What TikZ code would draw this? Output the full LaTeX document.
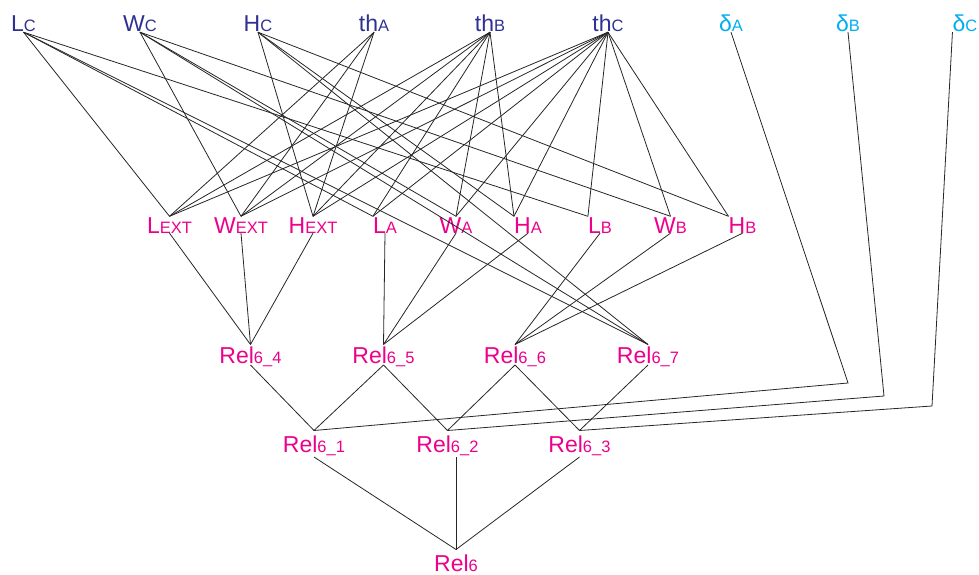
\documentclass[tikz,border=0pt]{standalone}
\usepackage{fontspec}
\setmainfont{Liberation Sans}
\definecolor{dimblue}{HTML}{2E3192}
\definecolor{gapcyan}{HTML}{00AEEF}
\definecolor{relpink}{HTML}{EC008C}
\newcommand{\subtxt}[1]{{\fontsize{16.5}{16.5}\selectfont #1}}

\begin{document}
\begin{tikzpicture}[x=1pt, y=-1pt,
    var/.style={inner sep=0pt, text height=16.5pt, text depth=0pt, anchor=base, font=\fontsize{23}{23}\selectfont},
    given/.style={var, text=dimblue},
    gap/.style={var, text=gapcyan},
    derived/.style={var, text=relpink},
    relhigh/.style={derived, outer ysep=2pt},
    rellow/.style={derived, outer ysep=5pt},
    link/.style={draw=black!85, line width=0.8pt}
]
    \useasboundingbox (0,0) rectangle (979,575);

    % Top row
    \node[given] (Lc) at (23.5,32) {L\subtxt{C}};
    \node[given] (Wc) at (140,32) {W\subtxt{C}};
    \node[given] (Hc) at (258,32) {H\subtxt{C}};
    \node[given] (thA) at (374,32) {th\subtxt{A}};
    \node[given] (thB) at (490,32) {th\subtxt{B}};
    \node[given] (thC) at (608,32) {th\subtxt{C}};
    \node[gap] (dA) at (731,32) {δ\subtxt{A}};
    \node[gap] (dB) at (848,32) {δ\subtxt{B}};
    \node[gap] (dC) at (965,32) {δ\subtxt{C}};

    % Middle row
    \node[derived] (Lext) at (169.5,233) {L\subtxt{EXT}};
    \node[derived] (Wext) at (241,233) {W\subtxt{EXT}};
    \node[derived] (Hext) at (313,233) {H\subtxt{EXT}};
    \node[derived] (LA) at (385,233) {L\subtxt{A}};
    \node[derived] (WA) at (456,233) {W\subtxt{A}};
    \node[derived] (HA) at (528,233) {H\subtxt{A}};
    \node[derived] (LB) at (600,233) {L\subtxt{B}};
    \node[derived] (WB) at (670.5,233) {W\subtxt{B}};
    \node[derived] (HB) at (742.5,233) {H\subtxt{B}};

    % Relations
    \node[relhigh] (Rel64) at (250.5,363) {Rel\subtxt{6\_4}};
    \node[relhigh] (Rel65) at (383.5,363) {Rel\subtxt{6\_5}};
    \node[relhigh] (Rel66) at (515,363) {Rel\subtxt{6\_6}};
    \node[relhigh] (Rel67) at (648,363) {Rel\subtxt{6\_7}};
    \node[rellow] (Rel61) at (314,452) {Rel\subtxt{6\_1}};
    \node[rellow] (Rel62) at (447.5,452) {Rel\subtxt{6\_2}};
    \node[rellow] (Rel63) at (579.5,452) {Rel\subtxt{6\_3}};
    \node[rellow] (Rel6) at (456,571) {Rel\subtxt{6}};

    % Bends of the clearance lines
    \coordinate (kA) at (848,383);
    \coordinate (kB) at (884,396);
    \coordinate (kC) at (932,406);

    % Top row to middle row
    \foreach \t in {Lext.north, LA.north west, LB.north west, Rel67.north}
        \draw[link] (Lc.south) -- (\t);
    \foreach \t in {Wext.north, WA.north, WB.north, Rel67.north}
        \draw[link] (Wc.south) -- (\t);
    \foreach \t in {Hext.north, HA.north west, HB.north west, Rel67.north}
        \draw[link] (Hc.south) -- (\t);
    \foreach \t in {Lext.north, Wext.north, Hext.north}
        \draw[link] (thA.south) -- (\t);
    \foreach \t in {Lext.north, Wext.north, Hext.north, LA.north west, WA.north, HA.north west}
        \draw[link] (thB.south) -- (\t);
    \foreach \t in {Lext.north, Wext.north, Hext.north, LA.north west, WA.north, HA.north west, LB.north west, WB.north, HB.north west}
        \draw[link] (thC.south) -- (\t);

    % Middle row to relations
    \foreach \s/\r in {Lext/Rel64, Wext/Rel64, Hext/Rel64, LA/Rel65, WA/Rel65, HA/Rel65, LB/Rel66, WB/Rel66, HB/Rel66}
        \draw[link] (\s.south) -- (\r.north);
    \foreach \s/\r in {Rel64/Rel61, Rel65/Rel61, Rel65/Rel62, Rel66/Rel62, Rel66/Rel63, Rel67/Rel63}
        \draw[link] (\s.south) -- (\r.north);

    % Clearances
    \draw[link] (dA.south) -- (kA) -- (Rel61.north);
    \draw[link] (dB.south) -- (kB) -- (Rel62.north);
    \draw[link] (dC.south west) -- (kC) -- (Rel63.north);

    % Final relation
    \draw[link] (Rel61.south) -- (Rel6.north);
    \draw[link] (Rel62.south -| Rel6.north) -- (Rel6.north);
    \draw[link] (Rel63.south) -- (Rel6.north);
\end{tikzpicture}
\end{document}
